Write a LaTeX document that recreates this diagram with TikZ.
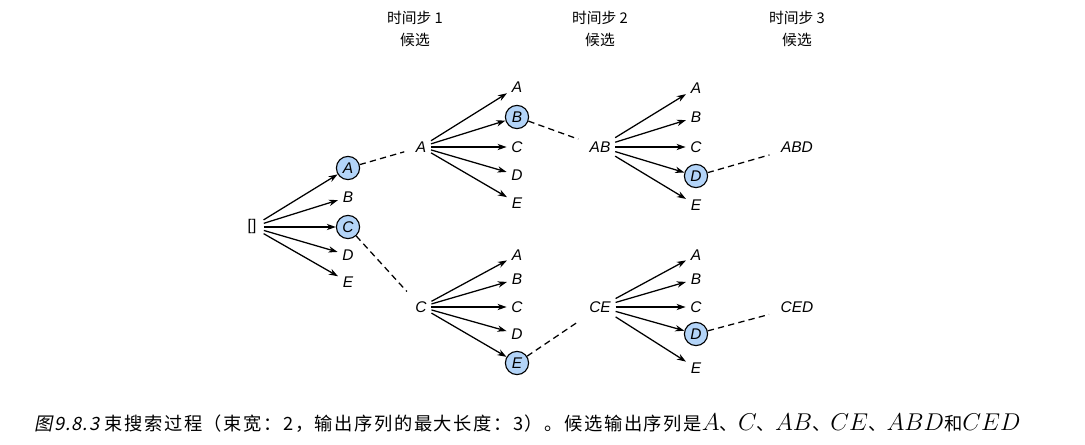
\documentclass[tikz,border=0pt]{standalone}
\usepackage{fontspec}
\setsansfont{Liberation Sans}
\newfontfamily\cjk{Noto Sans CJK SC}
\newfontfamily\capfont[LetterSpace=8.5]{Noto Sans CJK SC}
\newfontfamily\capit[FakeSlant=0.2,LetterSpace=6]{Noto Sans CJK SC}
\newcommand\capm[1]{{\fontsize{18}{20}\selectfont$#1$}}
\usetikzlibrary{arrows.meta}
\definecolor{beamblue}{HTML}{B3D4F8}
\tikzset{
  word/.style={},
  pick/.style={circle,draw,fill=beamblue,line width=0.8pt,minimum size=16.5pt,inner sep=0pt},
  hdr/.style={font=\cjk\fontsize{10.5}{15.5}\selectfont,align=center,inner sep=0pt},
  beam/.style={dashed,dash pattern=on 4.5pt off 3pt,shorten >=5pt}
}
\begin{document}
\begin{tikzpicture}[x=0.025cm,y=-0.025cm,>={Stealth[length=6.5pt,width=4.5pt]},line width=0.9pt,
  every node/.style={font=\sffamily\itshape\fontsize{11}{13}\selectfont,inner sep=3pt}]
\useasboundingbox (0,0) rectangle (1085,445);
\node[hdr] (h1) at (415,29) {时间步 1\\候选};
\node[hdr] (h2) at (600,29) {时间步 2\\候选};
\node[hdr] (h3) at (797,29) {时间步 3\\候选};

\node[font=\sffamily\fontsize{11}{13}\selectfont] (r) at (252,227) {[]};
\foreach \n/\y/\s in {A/168/pick,B/197/word,C/227/pick,D/255/word,E/282/word}{
  \node[\s] (a1\n) at (348,\y) {\n};
  \draw[->,shorten <=2pt] (r) -- (a1\n);
}
\node (cA) at (421,147) {A};
\node (cC) at (421,307) {C};
\draw[beam] (a1A) -- (cA);
\draw[beam] (a1C) -- (cC);

\foreach \n/\y/\s in {A/87/word,B/117/pick,C/147/word,D/175/word,E/203/word}{
  \node[\s] (a2\n) at (517,\y) {\n};
  \draw[->] (cA) -- (a2\n);
}
\foreach \n/\y/\s in {A/255/word,B/279/word,C/307/word,D/334/word,E/363/pick}{
  \node[\s] (b2\n) at (517,\y) {\n};
  \draw[->] (cC) -- (b2\n);
}
\node (cAB) at (600,147) {AB};
\node (cCE) at (600,307) {CE};
\draw[beam] (a2B) -- (cAB);
\draw[beam] (b2E) -- (cCE);

\foreach \n/\y/\s in {A/88/word,B/117/word,C/147/word,D/176/pick,E/205/word}{
  \node[\s] (a3\n) at (696,\y) {\n};
  \draw[->] (cAB) -- (a3\n);
}
\foreach \n/\y/\s in {A/255/word,B/279/word,C/307/word,D/334/pick,E/368/word}{
  \node[\s] (b3\n) at (696,\y) {\n};
  \draw[->] (cCE) -- (b3\n);
}
\node (cABD) at (797,147) {ABD};
\node (cCED) at (797,307) {CED};
\draw[beam] (a3D) -- (cABD);
\draw[beam] (b3D) -- (cCED);

% caption
\node[anchor=west,font=\capfont\fontsize{13}{15}\selectfont] (cap) at (30,423)
  {{\capit 图9.8.3}\hspace{4pt}束搜索过程（束宽：2，输出序列的最大长度：3）。候选输出序列是\capm{A}、\capm{C}、\capm{AB}、\capm{CE}、\capm{ABD}和\capm{CED}};
\end{tikzpicture}
\end{document}
